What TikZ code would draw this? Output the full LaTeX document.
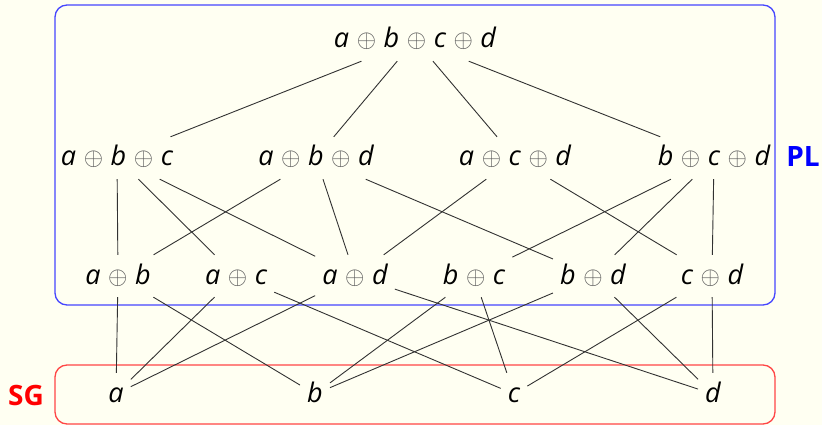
\documentclass[tikz,border=0pt]{standalone}
\usepackage{fontspec}
\setmainfont{Open Sans}
\definecolor{bg}{RGB}{255,255,242}
\definecolor{plblue}{RGB}{70,70,255}
\definecolor{sgred}{RGB}{255,70,70}
\definecolor{edgec}{RGB}{50,50,50}
\definecolor{opc}{RGB}{90,90,90}
\newcommand{\op}{\hspace{0.28em}{\color{opc}$\oplus$}\hspace{0.28em}}
\begin{document}
\begin{tikzpicture}[x=1pt,y=-1pt,
  v/.style={font=\fontsize{27}{32}\selectfont\itshape, text height=22pt, text depth=6pt, inner sep=7pt},
  e/.style={draw=edgec, line width=0.9pt},
  lab/.style={font=\fontsize{28}{32}\selectfont\bfseries, inner sep=0pt}]
\fill[bg] (0,0) rectangle (822,425);
\useasboundingbox (0,0) rectangle (822,425);
\draw[plblue, line width=1.3pt, rounded corners=12pt] (55,5) rectangle (775,305);
\draw[sgred, line width=1.3pt, rounded corners=12pt] (55,365) rectangle (775,424);
\node[lab, text=blue] (PL) at (803,157) {PL};
\node[lab, text=red] (SG) at (26,395) {SG};
% nodes
\node[v] (abcd) at (415,40) {a\op b\op c\op d};
\node[v] (abc) at (117,158) {a\op b\op c};
\node[v] (abd) at (316,158) {a\op b\op d};
\node[v] (acd) at (515,158) {a\op c\op d};
\node[v] (bcd) at (714,158) {b\op c\op d};
\node[v] (ab) at (118,276) {a\op b};
\node[v] (ac) at (236,276) {a\op c};
\node[v] (ad) at (355,276) {a\op d};
\node[v] (bc) at (474,276) {b\op c};
\node[v] (bd) at (593,276) {b\op d};
\node[v] (cd) at (712,276) {c\op d};
\node[v] (a) at (116,394) {a};
\node[v] (b) at (315,394) {b};
\node[v] (c) at (514,394) {c};
\node[v] (d) at (713,394) {d};
% edges
\foreach \s/\t in {abcd/abc, abcd/abd, abcd/acd, abcd/bcd,
  abc/ab, abc/ac, abc/ad, abd/ab, abd/ad, abd/bd, acd/ad, acd/cd,
  bcd/bc, bcd/bd, bcd/cd,
  ab/a, ab/b, ac/a, ac/c, ad/a, ad/d, bc/b, bc/c, bd/b, bd/d, cd/c, cd/d}
  \draw[e] (\s) -- (\t);
\end{tikzpicture}
\end{document}
